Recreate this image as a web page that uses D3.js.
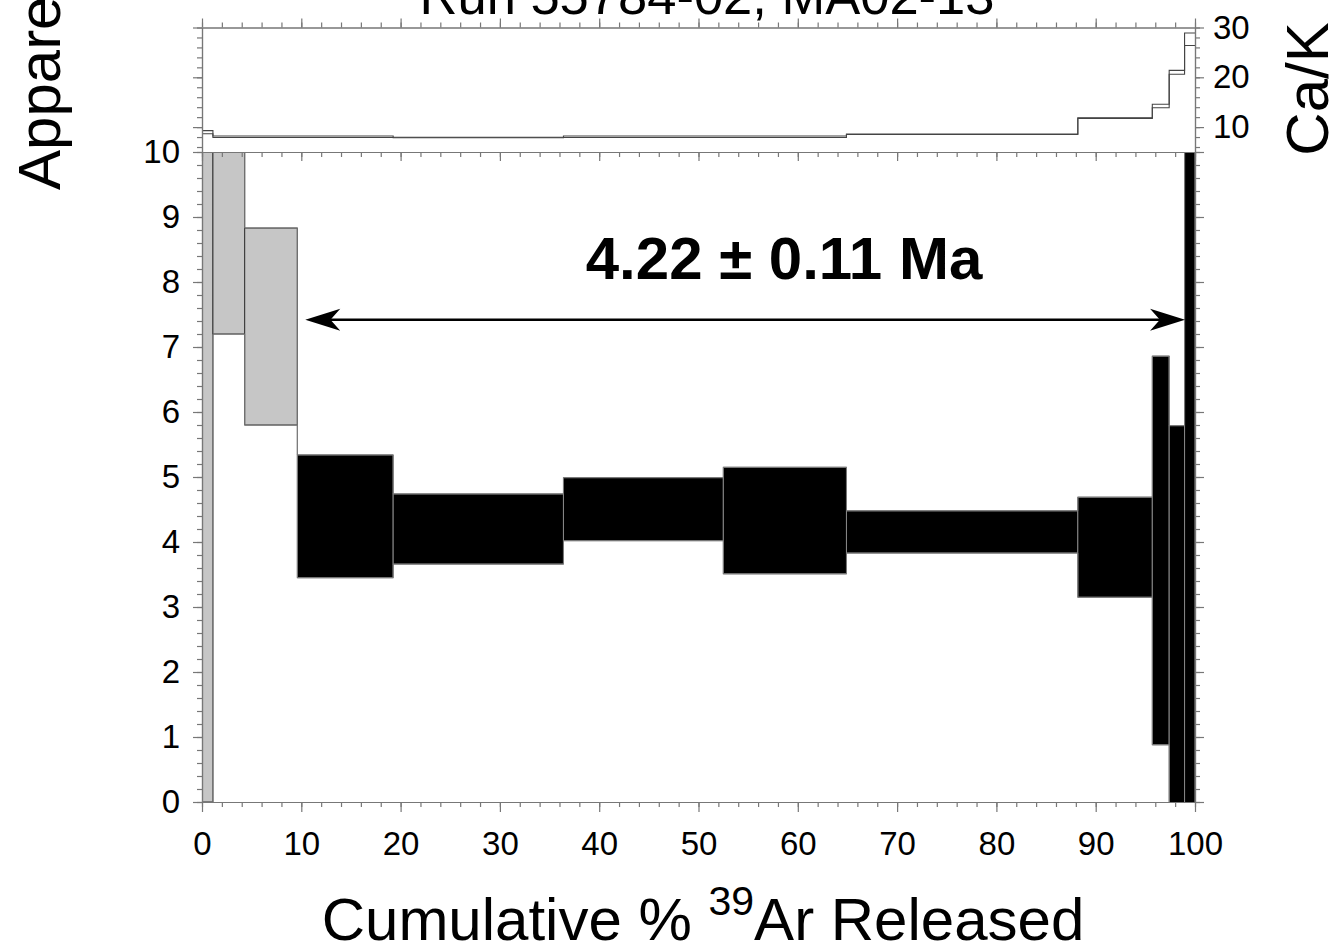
<!DOCTYPE html>
<html><head><meta charset="utf-8">
<script src="https://cdn.jsdelivr.net/npm/d3@7"></script>
<style>
body{margin:0;background:#fff}
svg{display:block}
text{font-family:"Liberation Sans",Arial,Helvetica,sans-serif;fill:#000}
</style>
</head><body>
<svg id="c" width="1330" height="948"></svg>
<script>
// ---- data ----
const cumBounds   = [0, 1.1, 4.3, 9.6, 19.25, 36.4, 52.5, 64.9, 88.2, 95.7, 97.4, 98.95, 100];
const ageLow      = [0.0, 7.2, 5.8, 3.45, 3.66, 4.02, 3.51, 3.83, 3.15, 0.88, -0.5, -1.0];
const ageHigh     = [11.0, 11.0, 8.83, 5.34, 4.74, 4.99, 5.15, 4.48, 4.69, 6.86, 5.79, 11.0];
const stepIncluded= [false, false, false, true, true, true, true, true, true, true, true, true];
const caKLow      = [8.65, 7.9, 7.9, 7.9, 7.85, 7.9, 7.9, 8.5, 11.75, 13.9, 20.6, 26.4];
const caKHigh     = [9.3, 8.2, 8.2, 8.2, 7.95, 8.2, 8.2, 8.6, 11.85, 14.6, 21.4, 28.9];
const xTickLabels   = [0,10,20,30,40,50,60,70,80,90,100];
const ageTickLabels = [0,1,2,3,4,5,6,7,8,9,10];
const caKTickLabels = [10,20,30];
const plateauText   = "4.22 ± 0.11 Ma";
const plateauArrowX = [10.4, 99.0];
const plateauArrowAge = 7.42;
const titleText = "Run 55784-02, MA02-13";

// ---- layout ----
const svg = d3.select("#c");
const L = 202, R = 1195, mainTop = 152, mainBot = 802, caTop = 27.5;
const x  = d3.scaleLinear().domain([0,100]).range([L,R]);
const y  = d3.scaleLinear().domain([0,10]).range([mainBot,mainTop]);
const yc = d3.scaleLinear().domain([5,30]).range([mainTop,caTop]);
const axisColor = "#777";
const tickFont = 33;

svg.append("defs").append("clipPath").attr("id","clipMain")
  .append("rect").attr("x",L).attr("y",mainTop).attr("width",R-L).attr("height",mainBot-mainTop);
svg.select("defs").append("clipPath").attr("id","clipCa")
  .append("rect").attr("x",L).attr("y",caTop).attr("width",R-L).attr("height",mainTop-caTop);

// ---- age spectrum ----
const steps = ageLow.map((lo,i)=>({x0:cumBounds[i],x1:cumBounds[i+1],lo,hi:ageHigh[i],inc:stepIncluded[i]}));
const gMain = svg.append("g").attr("clip-path","url(#clipMain)");
gMain.selectAll("rect.step").data(steps).join("rect")
  .attr("class","step")
  .attr("x",d=>x(d.x0)).attr("width",d=>x(d.x1)-x(d.x0))
  .attr("y",d=>y(d.hi)).attr("height",d=>y(d.lo)-y(d.hi))
  .attr("fill",d=>d.inc?"#000":"#c6c6c6")
  .attr("stroke",d=>d.inc?"#888":"#333").attr("stroke-width",1);

const envPts = key => steps.flatMap(d=>[[d.x0,d[key]],[d.x1,d[key]]]);
const envLine = d3.line().x(p=>x(p[0])).y(p=>y(p[1]));
["lo","hi"].forEach(k=>{
  gMain.append("path").attr("d",envLine(envPts(k)))
    .attr("fill","none").attr("stroke","#777").attr("stroke-width",1);
});

// ---- Ca/K ----
const caSteps = caKLow.map((lo,i)=>({x0:cumBounds[i],x1:cumBounds[i+1],lo,hi:caKHigh[i]}));
const gCa = svg.append("g").attr("clip-path","url(#clipCa)");
const caLine = d3.line().x(p=>x(p[0])).y(p=>yc(p[1]));
["lo","hi"].forEach(k=>{
  gCa.append("path").attr("d",caLine(caSteps.flatMap(d=>[[d.x0,d[k]],[d.x1,d[k]]])))
    .attr("fill","none").attr("stroke","#444").attr("stroke-width",1.1);
});

// ---- axes ----
function styleAxis(g){
  g.select(".domain").attr("stroke",axisColor).attr("stroke-width",1.2);
  g.selectAll(".tick line").attr("stroke",axisColor).attr("stroke-width",1.2);
  g.selectAll(".tick text").attr("font-size",tickFont).attr("font-family","Liberation Sans, Arial, sans-serif").attr("fill","#000");
}
const minorX = d3.range(0,101,2), minorAge = d3.range(0,10.01,0.2).map(v=>+v.toFixed(1)), minorCa = d3.range(6,31,2);

// bottom
svg.append("g").attr("transform",`translate(0,${mainBot})`)
  .call(d3.axisBottom(x).tickValues(minorX).tickSize(5).tickSizeOuter(0).tickFormat("")).call(styleAxis);
svg.append("g").attr("transform",`translate(0,${mainBot})`)
  .call(d3.axisBottom(x).tickValues(xTickLabels).tickSize(10).tickSizeOuter(0).tickPadding(20).tickFormat(d3.format("d"))).call(styleAxis);
// main top (ticks downward)
svg.append("g").attr("transform",`translate(0,${mainTop})`)
  .call(d3.axisBottom(x).tickValues(minorX).tickSize(5).tickSizeOuter(0).tickFormat("")).call(styleAxis);
svg.append("g").attr("transform",`translate(0,${mainTop})`)
  .call(d3.axisBottom(x).tickValues(xTickLabels).tickSize(9).tickSizeOuter(0).tickFormat("")).call(styleAxis);
// main left
svg.append("g").attr("transform",`translate(${L},0)`)
  .call(d3.axisLeft(y).tickValues(minorAge).tickSize(5).tickSizeOuter(0).tickFormat("")).call(styleAxis);
svg.append("g").attr("transform",`translate(${L},0)`)
  .call(d3.axisLeft(y).tickValues(ageTickLabels).tickSize(9).tickSizeOuter(0).tickPadding(13).tickFormat(d3.format("d"))).call(styleAxis);
// main right
svg.append("g").attr("transform",`translate(${R},0)`)
  .call(d3.axisRight(y).tickValues(minorAge).tickSize(5).tickSizeOuter(0).tickFormat("")).call(styleAxis);
svg.append("g").attr("transform",`translate(${R},0)`)
  .call(d3.axisRight(y).tickValues(ageTickLabels).tickSize(9).tickSizeOuter(0).tickFormat("")).call(styleAxis);
// Ca/K top
svg.append("g").attr("transform",`translate(0,${caTop})`)
  .call(d3.axisTop(x).tickValues(minorX).tickSize(5).tickSizeOuter(0).tickFormat("")).call(styleAxis);
svg.append("g").attr("transform",`translate(0,${caTop})`)
  .call(d3.axisTop(x).tickValues(xTickLabels).tickSize(9).tickSizeOuter(0).tickFormat("")).call(styleAxis);
// Ca/K left
svg.append("g").attr("transform",`translate(${L},0)`)
  .call(d3.axisLeft(yc).tickValues(minorCa).tickSize(5).tickSizeOuter(0).tickFormat("")).call(styleAxis);
svg.append("g").attr("transform",`translate(${L},0)`)
  .call(d3.axisLeft(yc).tickValues(caKTickLabels).tickSize(9).tickSizeOuter(0).tickFormat("")).call(styleAxis);
// Ca/K right
svg.append("g").attr("transform",`translate(${R},0)`)
  .call(d3.axisRight(yc).tickValues(minorCa).tickSize(5).tickSizeOuter(0).tickFormat("")).call(styleAxis);
svg.append("g").attr("transform",`translate(${R},0)`)
  .call(d3.axisRight(yc).tickValues(caKTickLabels).tickSize(9).tickSizeOuter(0).tickPadding(9).tickFormat(d3.format("d"))).call(styleAxis);

// ---- plateau arrow ----
const ay = y(plateauArrowAge), ax0 = x(plateauArrowX[0]), ax1 = x(plateauArrowX[1]);
const headL = 35, headH = 11, notch = 0.72;
svg.append("line").attr("x1",ax0+10).attr("x2",ax1-10).attr("y1",ay).attr("y2",ay)
  .attr("stroke","#000").attr("stroke-width",2.6);
const head = (tx,dir)=>`M${tx},${ay} L${tx+dir*headL},${ay-headH} L${tx+dir*headL*notch},${ay} L${tx+dir*headL},${ay+headH} Z`;
svg.append("path").attr("d",head(ax0,1)).attr("fill","#000");
svg.append("path").attr("d",head(ax1,-1)).attr("fill","#000");

svg.append("text").attr("x",784).attr("y",279).attr("text-anchor","middle")
  .attr("font-size",60).attr("font-weight","bold").text(plateauText);

// ---- titles / labels ----
svg.append("text").attr("x",707).attr("y",14).attr("text-anchor","middle")
  .attr("font-size",52.5).text(titleText);

const xl = svg.append("text").attr("x",703).attr("y",940).attr("text-anchor","middle").attr("font-size",60);
xl.append("tspan").text("Cumulative % ");
xl.append("tspan").attr("font-size",41).attr("dy",-25).text("39");
xl.append("tspan").attr("dy",25).text("Ar Released");

svg.append("text").attr("transform","translate(60,190) rotate(-90)").attr("text-anchor","start")
  .attr("font-size",60).text("Apparent Age (Ma)");
svg.append("text").attr("transform","translate(1328,89) rotate(-90)").attr("text-anchor","middle")
  .attr("font-size",60).text("Ca/K");
</script>
</body></html>
